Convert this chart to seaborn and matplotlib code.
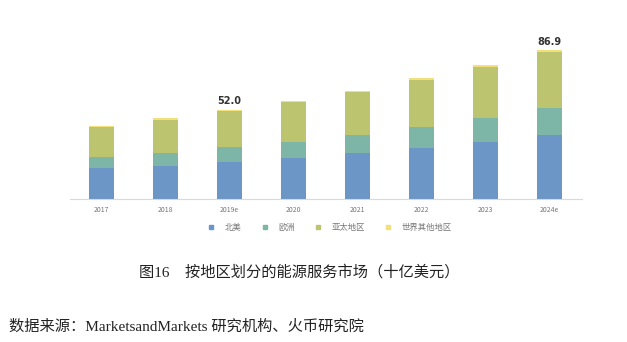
import matplotlib
matplotlib.use("Agg")
import matplotlib.pyplot as plt
from matplotlib.lines import Line2D
import seaborn as sns
import pandas as pd
import numpy as np

years = ["2017", "2018", "2019e", "2020", "2021", "2022", "2023", "2024e"]
north_america = [18.1, 19.3, 21.4, 24.1, 26.9, 30.0, 33.5, 37.4]
europe = [6.2, 7.8, 9.2, 9.2, 10.5, 12.1, 13.6, 15.8]
asia_pacific = [17.5, 19.3, 20.6, 23.2, 25.1, 27.5, 30.0, 32.7]
rest_world = [0.8, 0.8, 0.8, 0.8, 0.8, 1.0, 1.0, 1.0]
labels_shown = {"2019e": "52.0", "2024e": "86.9"}
series_names = ["北美", "欧洲", "亚太地区", "世界其他地区"]
colors = ["#6b96c6", "#7db6a6", "#bcc46f", "#f3e07a"]

sns.set_theme(style="white")
plt.rcParams["font.family"] = ["Noto Sans CJK SC", "DejaVu Sans"]

fig = plt.figure(figsize=(6.27, 3.42), dpi=100)
ax = fig.add_axes([0.111, 0.418, 0.8166, 0.4755])

series = [north_america, europe, asia_pacific, rest_world]
cum = np.cumsum(np.array(series), axis=0)
# draw from top (total) to bottom so lower segments overlay
for i in range(len(series) - 1, -1, -1):
    df = pd.DataFrame({"year": years, "value": cum[i]})
    sns.barplot(data=df, x="year", y="value", color=colors[i], width=0.39,
                saturation=1, ax=ax, order=years, linewidth=0,
                edgecolor="none")

totals = cum[-1]
for j, y in enumerate(years):
    if y in labels_shown:
        ax.text(j, totals[j] + 2.2, labels_shown[y], ha="center", va="bottom",
                fontsize=7, color="#333333", fontweight="semibold",
                family=["DejaVu Sans"])

ax.set_xlim(-0.5, len(years) - 0.5)
ax.set_ylim(0, 95)
ax.set_xlabel("")
ax.set_ylabel("")
ax.set_yticks([])
for s in ["top", "right", "left"]:
    ax.spines[s].set_visible(False)
ax.spines["bottom"].set_color("#d9d9d9")
ax.spines["bottom"].set_linewidth(0.8)
ax.tick_params(axis="x", length=0, labelsize=5, labelcolor="#777777", pad=5)

handles = [Line2D([], [], marker="s", linestyle="none", markersize=3,
                  markerfacecolor=c, markeredgecolor=c) for c in colors]
fig.legend(handles, series_names, loc="center", bbox_to_anchor=(0.522, 0.336),
           ncol=4, frameon=False, fontsize=6, labelcolor="#777777",
           handletextpad=0.6, columnspacing=1.8)

fig.text(0.478, 0.205, "图16    按地区划分的能源服务市场（十亿美元）", ha="center",
         va="center", fontsize=11, color="#222222",
         family=["Liberation Serif", "Noto Sans CJK SC"])
fig.text(0.014, 0.044, "数据来源：MarketsandMarkets 研究机构、火币研究院", ha="left",
         va="center", fontsize=11, color="#222222",
         family=["Liberation Serif", "Noto Sans CJK SC"])

fig.savefig("out.png", dpi=100)
